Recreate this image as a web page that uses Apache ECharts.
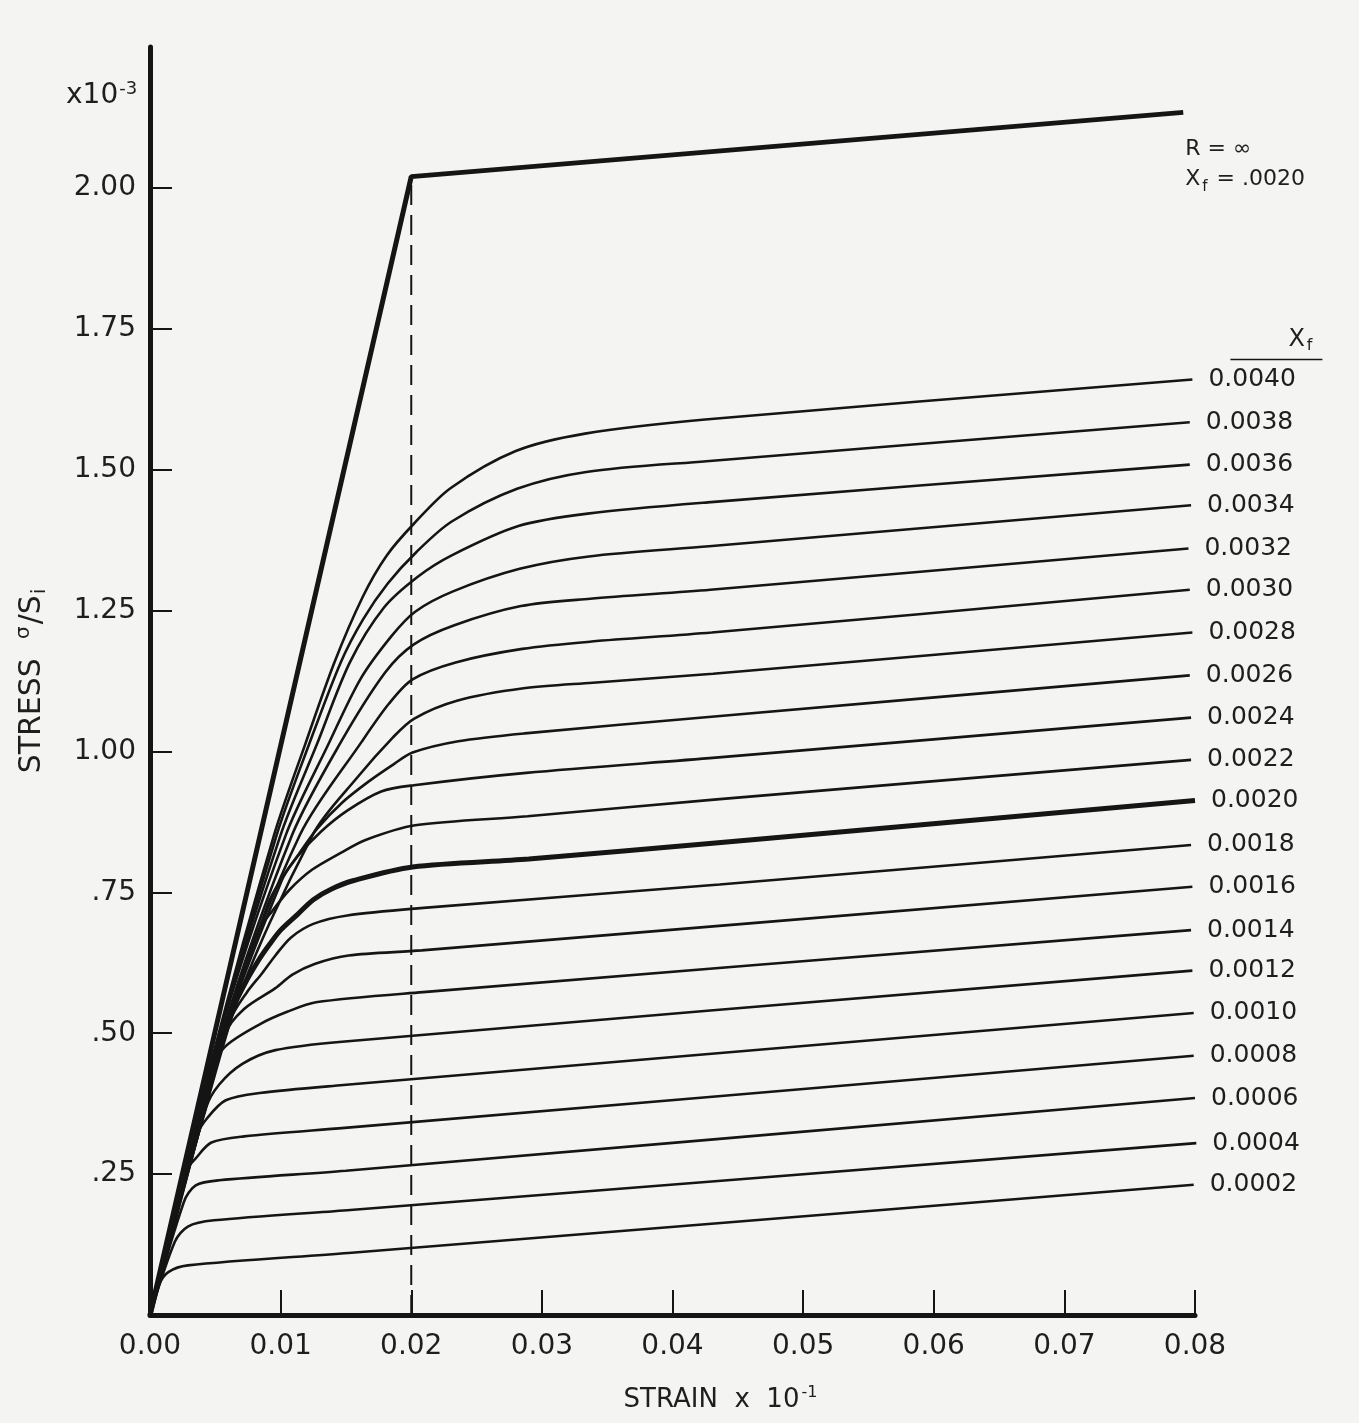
<!DOCTYPE html>
<html>
<head>
<meta charset="utf-8">
<title>Stress-strain curves</title>
<script src="https://cdn.jsdelivr.net/npm/echarts@6.0.0/dist/echarts.min.js"></script>
<style>
html, body { margin: 0; padding: 0; background: #f4f4f2; }
#chart { width: 1359px; height: 1423px; }
</style>
</head>
<body>
<div id="chart"></div>
<script>
// axis ticks
const strainTicks = [0.01, 0.02, 0.03, 0.04, 0.05, 0.06, 0.07, 0.08];
const strainLabels = [0, 0.01, 0.02, 0.03, 0.04, 0.05, 0.06, 0.07, 0.08];
const stressTicks = [0.25, 0.5, 0.75, 1.0, 1.25, 1.5, 1.75, 2.0];

// curve names, bottom to top
const xfLabels = ['0.0002', '0.0004', '0.0006', '0.0008', '0.0010', '0.0012', '0.0014',
  '0.0016', '0.0018', '0.0020', '0.0022', '0.0024', '0.0026', '0.0028', '0.0030',
  '0.0032', '0.0034', '0.0036', '0.0038', '0.0040'];

// [strain, stress]
const xf0002 = [[0, 0], [0.0007, 0.054], [0.0014, 0.076], [0.0029, 0.088], [0.0152, 0.110], [0.0799, 0.231]];
const xf0004 = [[0, 0], [0.0019, 0.130], [0.0029, 0.157], [0.0049, 0.168], [0.0151, 0.186], [0.0801, 0.305]];
const xf0006 = [[0, 0], [0.0026, 0.201], [0.0035, 0.230], [0.0053, 0.239], [0.0150, 0.256], [0.0800, 0.385]];
const xf0008 = [[0, 0], [0.0029, 0.260], [0.0035, 0.278], [0.0047, 0.306], [0.0072, 0.317], [0.0149, 0.332], [0.0799, 0.460]];
const xf0010 = [[0, 0], [0.0036, 0.319], [0.0044, 0.350], [0.0058, 0.381], [0.0084, 0.394], [0.0148, 0.408], [0.0799, 0.536]];
const xf0012 = [[0, 0], [0.0043, 0.368], [0.0053, 0.409], [0.0071, 0.446], [0.0096, 0.470], [0.0147, 0.485], [0.0798, 0.611]];
const xf0014 = [[0, 0], [0.0046, 0.427], [0.0057, 0.475], [0.0085, 0.517], [0.0105, 0.538], [0.0127, 0.555], [0.0209, 0.573], [0.0797, 0.683]];
const xf0016 = [[0, 0], [0.0058, 0.500], [0.0072, 0.543], [0.0096, 0.580], [0.0109, 0.604], [0.0126, 0.623], [0.0152, 0.638], [0.0208, 0.647], [0.0798, 0.760]];
const xf0018 = [[0, 0], [0.0062, 0.525], [0.0074, 0.572], [0.0086, 0.607], [0.0096, 0.638], [0.0108, 0.670], [0.0125, 0.694], [0.0151, 0.709], [0.0207, 0.722], [0.0436, 0.764], [0.0797, 0.834]];
const xf0020 = [[0, 0], [0.0060, 0.525], [0.0072, 0.585], [0.0083, 0.629], [0.0091, 0.656], [0.0100, 0.683], [0.0113, 0.711], [0.0125, 0.737], [0.0139, 0.756], [0.0156, 0.771], [0.0201, 0.795], [0.0290, 0.809], [0.0435, 0.838], [0.0800, 0.913]];
const xf0022 = [[0, 0], [0.0063, 0.547], [0.0083, 0.682], [0.0094, 0.718], [0.0107, 0.755], [0.0124, 0.790], [0.0146, 0.820], [0.0165, 0.843], [0.0203, 0.869], [0.0289, 0.885], [0.0434, 0.915], [0.0797, 0.985]];
const xf0024 = [[0, 0], [0.0045, 0.416], [0.0090, 0.727], [0.0099, 0.768], [0.0113, 0.814], [0.0131, 0.858], [0.0151, 0.895], [0.0177, 0.929], [0.0202, 0.940], [0.0288, 0.962], [0.0433, 0.989], [0.0797, 1.060]];
const xf0026 = [[0, 0], [0.0051, 0.462], [0.0101, 0.772], [0.0114, 0.818], [0.0128, 0.863], [0.0147, 0.909], [0.0167, 0.946], [0.0187, 0.978], [0.0201, 0.998], [0.0236, 1.018], [0.0287, 1.032], [0.0432, 1.062], [0.0796, 1.135]];
const xf0028 = [[0, 0], [0.0063, 0.532], [0.0125, 0.854], [0.0158, 0.952], [0.0186, 1.025], [0.0202, 1.058], [0.0235, 1.090], [0.0286, 1.112], [0.0339, 1.122], [0.0431, 1.138], [0.0798, 1.211]];
const xf0030 = [[0, 0], [0.0058, 0.515], [0.0115, 0.853], [0.0162, 1.017], [0.0183, 1.085], [0.0201, 1.128], [0.0234, 1.158], [0.0285, 1.182], [0.0338, 1.195], [0.0430, 1.211], [0.0796, 1.287]];
const xf0032 = [[0, 0], [0.0055, 0.498], [0.0109, 0.853], [0.0146, 1.016], [0.0180, 1.140], [0.0202, 1.190], [0.0233, 1.224], [0.0284, 1.258], [0.0337, 1.271], [0.0429, 1.287], [0.0795, 1.360]];
const xf0034 = [[0, 0], [0.0052, 0.486], [0.0104, 0.852], [0.0136, 1.010], [0.0161, 1.128], [0.0185, 1.205], [0.0203, 1.248], [0.0232, 1.284], [0.0283, 1.324], [0.0336, 1.346], [0.0428, 1.364], [0.0797, 1.437]];
const xf0036 = [[0, 0], [0.0050, 0.472], [0.0100, 0.852], [0.0128, 1.014], [0.0153, 1.158], [0.0179, 1.255], [0.0205, 1.310], [0.0231, 1.348], [0.0282, 1.400], [0.0335, 1.422], [0.0427, 1.442], [0.0796, 1.509]];
const xf0038 = [[0, 0], [0.0049, 0.462], [0.0097, 0.852], [0.0122, 1.014], [0.0146, 1.158], [0.0163, 1.234], [0.0182, 1.298], [0.0204, 1.354], [0.0231, 1.408], [0.0281, 1.466], [0.0334, 1.496], [0.0426, 1.515], [0.0796, 1.584]];
const xf0040 = [[0, 0], [0.0048, 0.459], [0.0095, 0.852], [0.0119, 1.014], [0.0141, 1.157], [0.0163, 1.275], [0.0181, 1.347], [0.0202, 1.404], [0.0230, 1.467], [0.0280, 1.533], [0.0333, 1.564], [0.0425, 1.589], [0.0798, 1.660]];

const curves = [xf0002, xf0004, xf0006, xf0008, xf0010, xf0012, xf0014, xf0016, xf0018, xf0020,
  xf0022, xf0024, xf0026, xf0028, xf0030, xf0032, xf0034, xf0036, xf0038, xf0040];

// R = infinity (elastic - perfectly plastic) and the yield strain marker
const rInfinity = [[0, 0], [0.0200, 2.02], [0.0791, 2.134]];
const yieldStrain = [[0.0200, 0], [0.0200, 2.02]];

const ink = '#151515';
const font = 'DejaVu Sans';

const chart = echarts.init(document.getElementById('chart'));

const curveSeries = curves.map((data, i) => ({
  name: xfLabels[i],
  type: 'line',
  data: data,
  symbol: 'none',
  smooth: 0.3,
  silent: true,
  lineStyle: { color: ink, width: xfLabels[i] === '0.0020' ? 5 : 2.6 },
  endLabel: {
    show: true,
    formatter: '{a}',
    color: '#1e1e1e',
    fontFamily: font,
    fontSize: 25,
    distance: 16
  }
}));

const option = {
  backgroundColor: '#f4f4f2',
  animation: false,
  grid: { left: 150, right: 164, top: 47, bottom: 108 },
  xAxis: {
    type: 'value',
    min: 0,
    max: 0.08,
    interval: 0.01,
    name: '{n|STRAIN  x  10}{sup|-1}',
    nameLocation: 'middle',
    nameGap: 70,
    nameTextStyle: {
      padding: [0, 0, 0, 96],
      rich: {
        n: { fontFamily: font, fontSize: 26, color: '#1e1e1e' },
        sup: { fontFamily: font, fontSize: 16, color: '#1e1e1e', verticalAlign: 'top', padding: [0, 0, 14, 2] }
      }
    },
    axisLine: { show: true, lineStyle: { color: ink, width: 5 } },
    axisTick: { show: true, inside: true, length: 25, customValues: strainTicks, lineStyle: { color: ink, width: 2 } },
    axisLabel: {
      customValues: strainLabels,
      formatter: v => v.toFixed(2),
      margin: 18,
      fontFamily: font,
      fontSize: 28,
      color: '#1e1e1e'
    },
    splitLine: { show: false }
  },
  yAxis: {
    type: 'value',
    min: 0,
    max: 2.25,
    interval: 0.25,
    name: '{n|STRESS  }{sup|σ}{n|/S}{sub|i}',
    nameLocation: 'middle',
    nameRotate: 90,
    nameGap: 100,
    nameTextStyle: {
      rich: {
        n: { fontFamily: font, fontSize: 30, color: '#1e1e1e' },
        sup: { fontFamily: font, fontSize: 20, color: '#1e1e1e', verticalAlign: 'top', padding: [0, 2, 16, 0] },
        sub: { fontFamily: font, fontSize: 20, color: '#1e1e1e', verticalAlign: 'bottom', padding: [12, 0, 0, 1] }
      }
    },
    axisLine: { show: true, lineStyle: { color: ink, width: 5 } },
    axisTick: { show: true, inside: true, length: 22, customValues: stressTicks, lineStyle: { color: ink, width: 2 } },
    axisLabel: {
      customValues: stressTicks,
      formatter: v => (v >= 1 ? v.toFixed(2) : v.toFixed(2).slice(1)),
      margin: 14,
      fontFamily: font,
      fontSize: 28,
      color: '#1e1e1e'
    },
    splitLine: { show: false }
  },
  series: [
    {
      name: 'R = ∞',
      type: 'line',
      data: rInfinity,
      symbol: 'none',
      silent: true,
      lineStyle: { color: ink, width: 5 },
      endLabel: {
        show: true,
        formatter: '{t|R = ∞}\n{t|X}{s|f}{t| = .0020}',
        offset: [-6, 52],
        rich: {
          t: { fontFamily: font, fontSize: 22, color: '#1e1e1e', lineHeight: 30 },
          s: { fontFamily: font, fontSize: 15, color: '#1e1e1e', verticalAlign: 'bottom', padding: [12, 2, 0, 2] }
        }
      }
    },
    {
      name: 'yield strain',
      type: 'line',
      data: yieldStrain,
      symbol: 'none',
      silent: true,
      lineStyle: { color: ink, width: 2, type: [20, 10] }
    }
  ].concat(curveSeries)
};

chart.setOption(option);

// x10^-3 multiplier and the x_f column header above the curve labels
const topEnd = chart.convertToPixel({ gridIndex: 0 }, xf0040[xf0040.length - 1]);
chart.setOption({
  graphic: [
    {
      type: 'text',
      left: 66,
      top: 80,
      style: {
        text: '{n|x10}{sup|-3}',
        rich: {
          n: { fontFamily: font, fontSize: 28, fill: '#1e1e1e' },
          sup: { fontFamily: font, fontSize: 18, fill: '#1e1e1e', verticalAlign: 'top', padding: [0, 0, 14, 1] }
        }
      }
    },
    {
      type: 'text',
      x: topEnd[0] + 96,
      y: topEnd[1] - 54,
      style: {
        text: '{n|X}{s|f}',
        rich: {
          n: { fontFamily: font, fontSize: 24, fill: '#1e1e1e' },
          s: { fontFamily: font, fontSize: 16, fill: '#1e1e1e', verticalAlign: 'bottom', padding: [12, 0, 0, 2] }
        }
      }
    },
    {
      type: 'line',
      shape: { x1: topEnd[0] + 38, y1: topEnd[1] - 20, x2: topEnd[0] + 130, y2: topEnd[1] - 20 },
      style: { stroke: ink, lineWidth: 1.5 }
    }
  ]
});
</script>
</body>
</html>
